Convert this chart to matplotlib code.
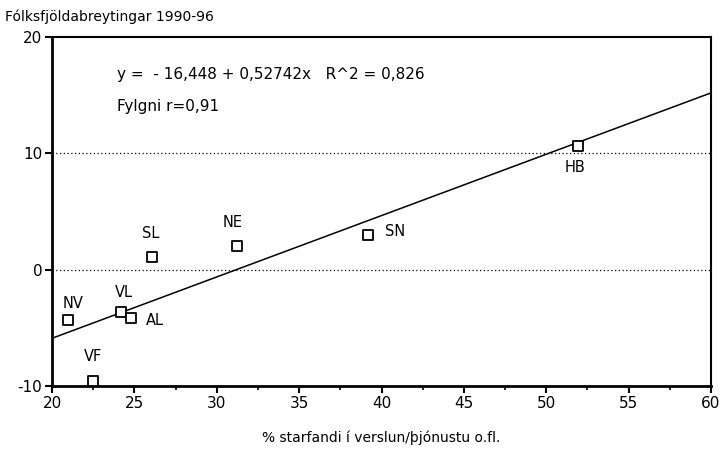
import matplotlib
matplotlib.use("Agg")
import matplotlib.pyplot as plt
from matplotlib.ticker import MultipleLocator
import numpy as np

plt.rcParams["axes.unicode_minus"] = False

labels = ["NV", "VF", "VL", "AL", "SL", "NE", "SN", "HB"]
x_vals = [21.0, 22.5, 24.2, 24.8, 26.1, 31.2, 39.2, 51.9]
y_vals = [-4.3, -9.6, -3.6, -4.15, 1.05, 2.05, 3.0, 10.6]
intercept = -16.448
slope = 0.52742
label_offsets = {  # in points
    "NV": (3, 12), "VF": (0, 18), "VL": (2, 14), "AL": (17, -2),
    "SL": (-1, 17), "NE": (-3, 17), "SN": (19, 2), "HB": (-2, -15),
}

fig = plt.figure(figsize=(7.24, 4.57), dpi=100)
ax = fig.add_axes([52/724, 1-386/457, (711-52)/724, (386-37)/457])

ax.set_xlim(20, 60)
ax.set_ylim(-10, 20)

for yg in [0, 10]:
    ax.axhline(yg, color="black", linestyle=(0, (1, 2)), linewidth=0.9, zorder=1)

xs = np.array([20, 60])
ax.plot(xs, intercept + slope * xs, color="black", linewidth=1.1, zorder=2)

ax.scatter(x_vals, y_vals, marker="s", s=55, facecolors="white",
           edgecolors="black", linewidths=1.3, zorder=3, clip_on=False)

for lab, xv, yv in zip(labels, x_vals, y_vals):
    dx, dy = label_offsets[lab]
    ax.annotate(lab, (xv, yv), xytext=(dx, dy), textcoords="offset points",
                ha="center", va="center", fontsize=10.5)

ax.text(117/724, 1-74/457, "y =  - 16,448 + 0,52742x   R^2 = 0,826",
        transform=fig.transFigure, ha="left", va="center", fontsize=11)
ax.text(117/724, 1-107/457, "Fylgni r=0,91",
        transform=fig.transFigure, ha="left", va="center", fontsize=11)
fig.text(5/724, 1-17/457, "Fólksfjöldabreytingar 1990-96",
         ha="left", va="center", fontsize=10)

ax.set_xlabel("% starfandi í verslun/þjónustu o.fl.", fontsize=10, labelpad=14)

ax.xaxis.set_major_locator(MultipleLocator(5))
ax.xaxis.set_minor_locator(MultipleLocator(2.5))
ax.yaxis.set_major_locator(MultipleLocator(10))
ax.tick_params(axis="both", which="major", direction="out", length=5, width=1.5,
               labelsize=11, colors="black", pad=2)
ax.tick_params(axis="x", which="minor", direction="out", length=3, width=1.2)

for side in ["left", "bottom"]:
    ax.spines[side].set_linewidth(2.0)
for side in ["top", "right"]:
    ax.spines[side].set_linewidth(1.5)

fig.savefig("out.png", dpi=100)
